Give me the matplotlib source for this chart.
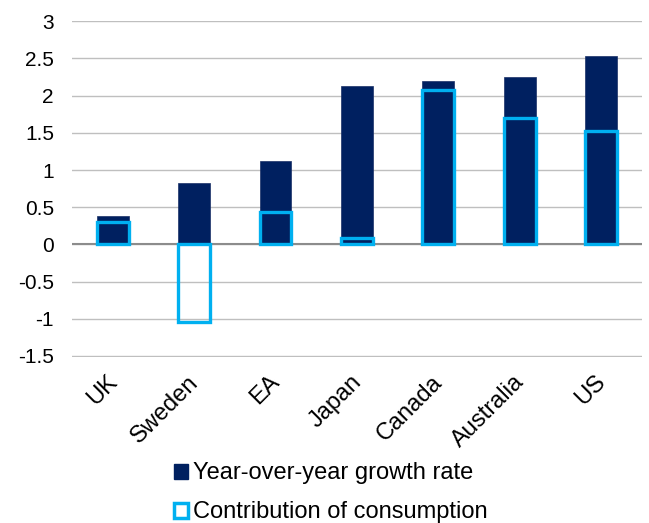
import numpy as np
import matplotlib
matplotlib.use("Agg")
import matplotlib.pyplot as plt
import matplotlib.transforms as mtransforms
from matplotlib.patches import Patch

countries = ["UK", "Sweden", "EA", "Japan", "Canada", "Australia", "US"]
yoy_growth = [0.38, 0.83, 1.12, 2.13, 2.20, 2.25, 2.53]
consumption = [0.30, -1.05, 0.43, 0.08, 2.07, 1.70, 1.53]

plt.rcParams['font.family'] = ['Liberation Sans', 'DejaVu Sans']

fig = plt.figure(figsize=(6.49, 5.23), dpi=100)
ax = fig.add_axes([0.111, 0.318, 0.878, 0.642])

x = np.arange(len(countries))
w = 0.39
ax.bar(x, yoy_growth, width=w, color="#002060", edgecolor="#1a2f66", linewidth=0.5, zorder=2)
ax.bar(x, consumption, width=w, facecolor="none", edgecolor="#00B0F0", linewidth=2.4, zorder=3)

ax.set_xlim(-0.5, len(countries) - 0.5)
ax.set_ylim(-1.51, 3.005)
yt = np.arange(-1.5, 3.01, 0.5)
ax.set_yticks(yt)
ax.set_yticklabels([f"{v:g}" for v in yt], fontsize=15)
ax.yaxis.grid(True, color="#BFBFBF", linewidth=1)
ax.set_axisbelow(True)
ax.axhline(0, color="#8C8C8C", linewidth=1.5, zorder=1)
for s in ax.spines.values():
    s.set_visible(False)
ax.tick_params(axis="both", length=0)
ax.tick_params(axis="y", pad=13)

# rotated category labels, nudged so their top-right corner sits just right of the tick
ax.set_xticks(x)
ax.set_xticklabels(countries, rotation=45, ha="right", va="center", rotation_mode="anchor", fontsize=17)
ax.tick_params(axis="x", pad=16)
shift = mtransforms.ScaledTranslation(1 / 100, 0, fig.dpi_scale_trans)
for lbl in ax.get_xticklabels():
    lbl.set_transform(lbl.get_transform() + shift)

handles = [Patch(facecolor="#002060", edgecolor="#002060", label="Year-over-year growth rate"),
           Patch(facecolor="white", edgecolor="#00B0F0", linewidth=2.5, label="Contribution of consumption")]
fig.legend(handles=handles, loc="upper left", bbox_to_anchor=(0.253, 0.134), frameon=False,
           fontsize=17, handlelength=0.6, handleheight=0.6, handletextpad=0.2, labelspacing=0.72,
           borderaxespad=0)

fig.savefig("out.png", dpi=100)
